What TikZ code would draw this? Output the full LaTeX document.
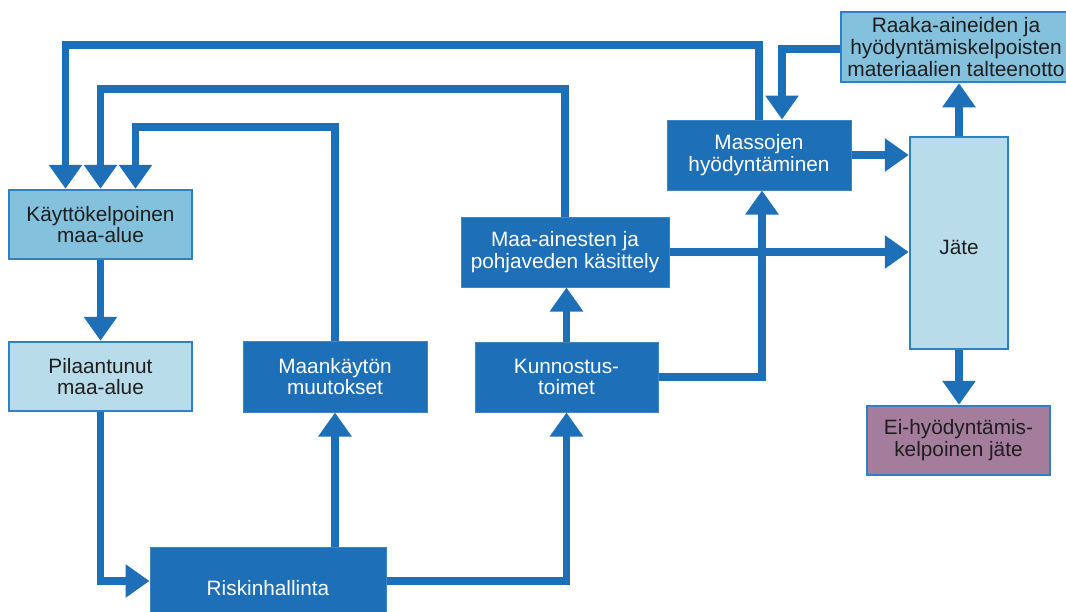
\documentclass[tikz,border=0pt]{standalone}
\usepackage{fontspec}
\setmainfont{Liberation Sans}
\usetikzlibrary{arrows.meta,calc}
\definecolor{dblue}{HTML}{1D6FB8}
\definecolor{lblue}{HTML}{84C1DC}
\definecolor{pblue}{HTML}{B9DCEA}
\definecolor{bord}{HTML}{2F80C4}
\definecolor{mauve}{HTML}{A47D9C}
\definecolor{txt}{HTML}{1E1E1E}
\tikzset{
  box/.style={rectangle, inner sep=0pt, align=center, font=\fontsize{20.8}{21.8}\selectfont,
    execute at begin node={\rule{0pt}{23pt}}},
  darkbox/.style={box, fill=dblue, draw=dblue!85!white, line width=1pt, text=white},
  lightbox/.style={box, fill=lblue, draw=bord, line width=2.5pt, text=txt},
  palebox/.style={box, fill=pblue, draw=bord, line width=2.5pt, text=txt},
  mauvebox/.style={box, fill=mauve, draw=bord, line width=2.5pt, text=txt},
  arr/.style={draw=dblue, line width=7.5pt, -{Triangle[width=32pt,length=24pt]}}
}
\begin{document}
\begin{tikzpicture}[x=1pt,y=-1pt]
\clip (0,0) rectangle (1066,611);
\fill[white] (0,0) rectangle (1066,611);
% nodes
\node[lightbox, minimum width=183pt, minimum height=69pt] (kay) at (100.5,224.5) {Käyttökelpoinen\\maa-alue};
\node[palebox, minimum width=183pt, minimum height=69pt] (pil) at (100.5,376.5) {Pilaantunut\\maa-alue};
\node[darkbox, minimum width=184pt, minimum height=71pt] (maank) at (335,376.5) {Maankäytön\\muutokset};
\node[darkbox, minimum width=236pt, minimum height=74pt] (risk) at (268,584) {Riskinhallinta};
\node[darkbox, minimum width=183pt, minimum height=70pt] (kunn) at (566.5,377) {Kunnostus-\\toimet};
\node[darkbox, minimum width=208pt, minimum height=70pt] (maa) at (565,252) {Maa-ainesten ja\\pohjaveden käsittely};
\node[darkbox, minimum width=184pt, minimum height=70pt] (mass) at (759,155) {Massojen\\hyödyntäminen};
\node[lightbox, minimum width=230pt, minimum height=70pt, font=\fontsize{20.9}{22}\selectfont,
  execute at begin node={\rule{0pt}{21pt}}] (raaka) at (956,47) {Raaka-aineiden ja\\hyödyntämiskelpoisten\\materiaalien talteenotto};
\node[palebox, minimum width=98pt, minimum height=212pt] (jate) at (959,243) {Jäte};
\node[mauvebox, minimum width=183pt, minimum height=69pt] (ei) at (958.5,440.5) {Ei-hyödyntämis-\\kelpoinen jäte};
% connectors
\draw[arr] (mass.north) |- ($(kay.north)+(-35,-144)$) -- ($(kay.north)+(-35,0)$);
\draw[arr] (maa.north) |- ($(kay.north)+(0,-100)$) -- (kay.north);
\draw[arr] (maank.north) |- ($(kay.north)+(35,-62)$) -- ($(kay.north)+(35,0)$);
\draw[arr] (kay.south) -- (pil.north);
\draw[arr] (pil.south) |- ($(risk.west)+(0,-3)$);
\draw[arr] (risk.north -| maank.south) -- (maank.south);
\draw[arr] ($(risk.east)+(0,-3)$) -| (kunn.south);
\draw[arr] (kunn.north) -- (kunn.north |- maa.south);
\draw[arr] (kunn.east) -| ($(mass.south)+(3,0)$);
\draw[arr] (maa.east) -- (maa.east -| jate.west);
\draw[arr] (mass.east) -- (mass.east -| jate.west);
\draw[arr] (jate.north) -- (jate.north |- raaka.south);
\draw[arr] ($(raaka.west)+(0,2)$) -| ($(mass.north)+(23,0)$);
\draw[arr] (jate.south) -- (jate.south |- ei.north);
\end{tikzpicture}
\end{document}
